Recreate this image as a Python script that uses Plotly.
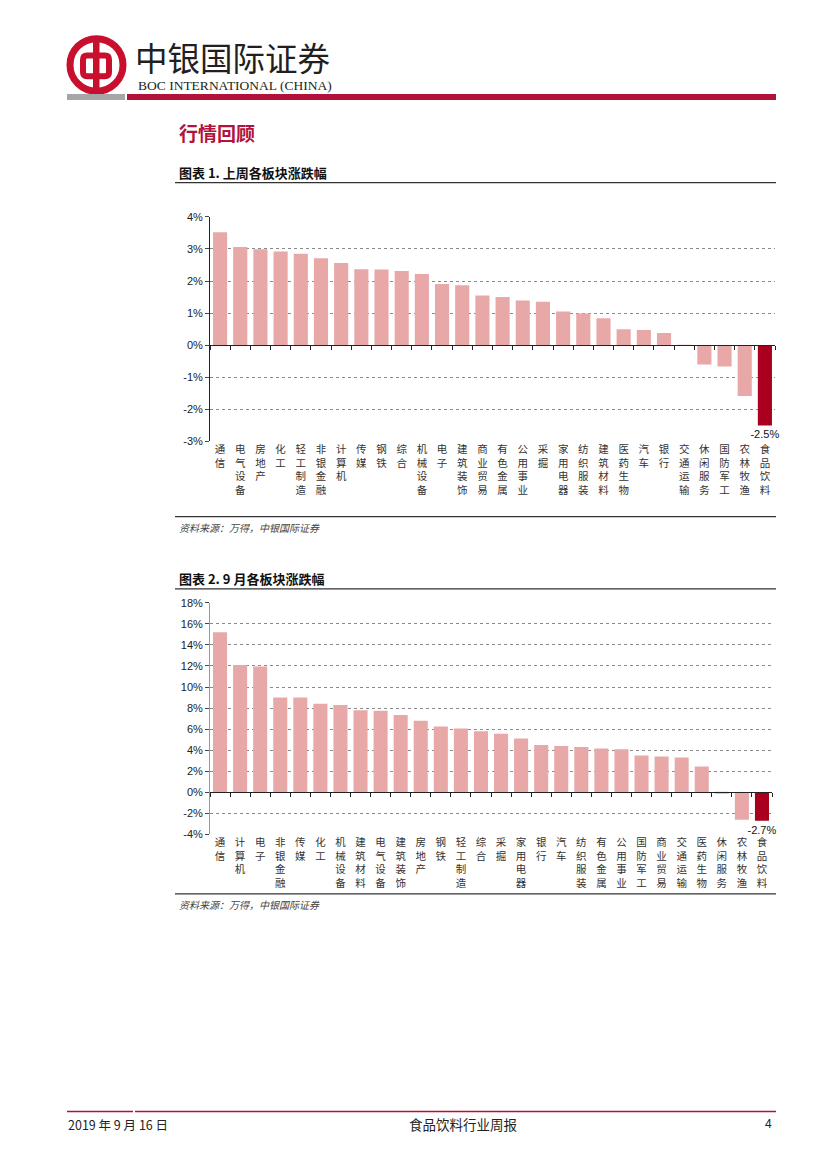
import plotly.graph_objects as go

W, H = 827, 1169

# ---------------- data ----------------
cats1 = ["通信", "电气设备", "房地产", "化工", "轻工制造", "非银金融", "计算机", "传媒",
         "钢铁", "综合", "机械设备", "电子", "建筑装饰", "商业贸易", "有色金属", "公用事业",
         "采掘", "家用电器", "纺织服装", "建筑材料", "医药生物", "汽车", "银行", "交通运输",
         "休闲服务", "国防军工", "农林牧渔", "食品饮料"]
vals1 = [3.52, 3.06, 2.99, 2.92, 2.85, 2.71, 2.56, 2.37, 2.36, 2.31, 2.22, 1.91, 1.87, 1.55,
         1.50, 1.39, 1.35, 1.05, 0.99, 0.84, 0.50, 0.47, 0.38, -0.01, -0.60, -0.66, -1.58, -2.50]

cats2 = ["通信", "计算机", "电子", "非银金融", "传媒", "化工", "机械设备", "建筑材料",
         "电气设备", "建筑装饰", "房地产", "钢铁", "轻工制造", "综合", "采掘", "家用电器",
         "银行", "汽车", "纺织服装", "有色金属", "公用事业", "国防军工", "商业贸易", "交通运输",
         "医药生物", "休闲服务", "农林牧渔", "食品饮料"]
vals2 = [15.2, 12.1, 11.95, 9.0, 9.0, 8.4, 8.3, 7.8, 7.75, 7.35, 6.8, 6.25, 6.05, 5.8,
         5.55, 5.1, 4.5, 4.4, 4.3, 4.15, 4.1, 3.5, 3.4, 3.3, 2.45, -0.05, -2.6, -2.7]

yticks1 = [-3, -2, -1, 0, 1, 2, 3, 4]
yticks2 = [-4, -2, 0, 2, 4, 6, 8, 10, 12, 14, 16, 18]
highlight = "食品饮料"

title1 = "图表 1. 上周各板块涨跌幅"
title2 = "图表 2. 9 月各板块涨跌幅"
source = "资料来源：万得，中银国际证券"

# ---------------- style ----------------
PINK = "#E8A8A8"
DARK = "#A8001E"
RED = "#B3123A"
CJK = "Noto Sans CJK SC"
SANS = "Liberation Sans, Arial, sans-serif"


def px(x):
    return x / W


def py(y):
    return 1 - y / H


def stack(s):
    return "<br>".join(list(s))


fig = go.Figure()

charts = [
    dict(cats=cats1, vals=vals1, ticks=yticks1, x=("x", "y", "x3"), dom_x=(210, 775), dom_y=(440, 213)),
    dict(cats=cats2, vals=vals2, ticks=yticks2, x=("x2", "y2", "x4"), dom_x=(210, 772), dom_y=(837, 603)),
]

for i, c in enumerate(charts):
    xa, ya, xz = c["x"]
    colors = [DARK if k == highlight else PINK for k in c["cats"]]
    texts = [f"{v}%" if k == highlight else "" for k, v in zip(c["cats"], c["vals"])]
    fig.add_trace(go.Bar(
        x=c["cats"], y=c["vals"], xaxis=xa, yaxis=ya,
        marker=dict(color=colors, line=dict(width=0)),
        text=texts, textposition="outside", constraintext="none", cliponaxis=False,
        textfont=dict(family=SANS, size=11, color="#111"),
        showlegend=False, hoverinfo="x+y",
    ))
    # invisible trace to carry the zero-line axis with boundary ticks
    fig.add_trace(go.Scatter(
        x=c["cats"], y=[0] * len(c["cats"]), xaxis=xz, yaxis=ya,
        mode="none", showlegend=False, hoverinfo="skip",
    ))

    ymin, ymax = c["ticks"][0], c["ticks"][-1]
    dx0, dx1 = px(c["dom_x"][0]), px(c["dom_x"][1])
    dy0, dy1 = py(c["dom_y"][0]), py(c["dom_y"][1])
    n = len(c["cats"])
    xkey = "xaxis" if xa == "x" else "xaxis" + xa[1:]
    ykey = "yaxis" if ya == "y" else "yaxis" + ya[1:]
    zkey = "xaxis" + xz[1:]
    fig.update_layout(**{
        xkey: dict(
            domain=[dx0, dx1], anchor=ya, type="category",
            categoryorder="array", categoryarray=c["cats"],
            ticktext=[stack(k) for k in c["cats"]], tickvals=c["cats"],
            range=[-0.5, n - 0.5],
            showgrid=False, showline=False, zeroline=False, ticks="",
            tickfont=dict(family=CJK, size=10.5, color="#333"),
            tickangle=0,
        ),
        ykey: dict(
            domain=[dy0, dy1], anchor=xa, range=[ymin, ymax],
            tickvals=c["ticks"], ticktext=[f"{t}%" for t in c["ticks"]],
            showgrid=True, gridcolor="#8a8a8a", griddash="dot", gridwidth=1,
            showline=True, linecolor="#222" if i == 0 else "#999", linewidth=1,
            ticks="outside", ticklen=4, tickcolor="#444",
            zeroline=False,
            tickfont=dict(family=SANS, size=11, color="#222"),
        ),
        zkey: dict(
            overlaying=xa, anchor="free",
            position=dy0 + (0 - ymin) / (ymax - ymin) * (dy1 - dy0),
            type="category", categoryorder="array", categoryarray=c["cats"],
            range=[-0.5, n - 0.5],
            showticklabels=False, ticks="outside", tickson="boundaries",
            ticklen=4, tickcolor="#222", showline=True, linecolor="#222",
            linewidth=1, showgrid=False, zeroline=False,
        ),
    })

fig.update_layout(bargap=0.3)

shapes = []
# logo
shapes.append(dict(type="circle", xref="paper", yref="paper",
                   x0=px(70), x1=px(123), y0=py(86), y1=py(33),
                   line=dict(color="#C8102E", width=7)))
shapes.append(dict(type="path", xref="paper", yref="paper",
                   path=(f"M {px(87)} {py(50)} L {px(105)} {py(50)} Q {px(109)} {py(50)} {px(109)} {py(54)} "
                         f"L {px(109)} {py(67)} Q {px(109)} {py(71)} {px(105)} {py(71)} "
                         f"L {px(87)} {py(71)} Q {px(83)} {py(71)} {px(83)} {py(67)} "
                         f"L {px(83)} {py(54)} Q {px(83)} {py(50)} {px(87)} {py(50)} Z"),
                   line=dict(color="#C8102E", width=6)))
shapes.append(dict(type="rect", xref="paper", yref="paper",
                   x0=px(93), x1=px(99.5), y0=py(86), y1=py(34),
                   fillcolor="#C8102E", line=dict(width=0)))
# header bars
shapes.append(dict(type="rect", xref="paper", yref="paper",
                   x0=px(67), x1=px(125), y0=py(95), y1=py(89),
                   fillcolor="#A6A6A6", line=dict(width=0)))
shapes.append(dict(type="rect", xref="paper", yref="paper",
                   x0=px(127), x1=px(776), y0=py(95), y1=py(89),
                   fillcolor="#B0123A", line=dict(width=0)))
# chart frame lines
for yy in (178.5, 516, 589, 897):
    shapes.append(dict(type="line", xref="paper", yref="paper",
                       x0=px(175), x1=px(776), y0=py(yy), y1=py(yy),
                       line=dict(color="#333", width=1.3)))
# footer lines
shapes.append(dict(type="line", xref="paper", yref="paper",
                   x0=px(67), x1=px(133), y0=py(1117), y1=py(1117),
                   line=dict(color="#B0123A", width=1.5)))
shapes.append(dict(type="line", xref="paper", yref="paper",
                   x0=px(135), x1=px(776), y0=py(1117), y1=py(1117),
                   line=dict(color="#B0123A", width=1.5)))

ann = []


def text(x, y, s, size, color="#222", family=CJK, xanchor="left", bold=False, italic=False):
    if bold:
        s = f"<b>{s}</b>"
    if italic:
        s = f"<i>{s}</i>"
    ann.append(dict(x=px(x), y=py(y), xref="paper", yref="paper", text=s, showarrow=False,
                    xanchor=xanchor, yanchor="middle",
                    font=dict(family=family, size=size, color=color)))


text(133, 51, "中银国际证券", 32.5, color="#231F20")
text(136, 80, "BOC INTERNATIONAL (CHINA)", 13.5, color="#231F20", family="Liberation Serif, serif")
text(177, 128, "行情回顾", 19, color=RED, bold=True)
text(177, 168, title1, 13, color="#111", bold=True)
text(177, 527, source, 10, color="#444", italic=True)
text(177, 578, title2, 13, color="#111", bold=True)
text(177, 908, source, 10, color="#444", italic=True)
text(66, 1130, "2019 年 9 月 16 日", 12.5, color="#222", family="Liberation Sans Narrow, " + CJK)
text(463, 1130, "食品饮料行业周报", 13.5, color="#222", xanchor="center")
text(774, 1130, "4", 12, color="#222", family="Liberation Sans Narrow, Liberation Sans", xanchor="right")

fig.update_layout(
    width=W, height=H,
    margin=dict(l=0, r=0, t=0, b=0),
    paper_bgcolor="white", plot_bgcolor="white",
    shapes=shapes, annotations=ann,
    font=dict(family=CJK),
)

fig.write_html("out.html", config={"displayModeBar": False},
               post_script="document.body.style.margin='0';document.body.style.overflow='hidden';")
